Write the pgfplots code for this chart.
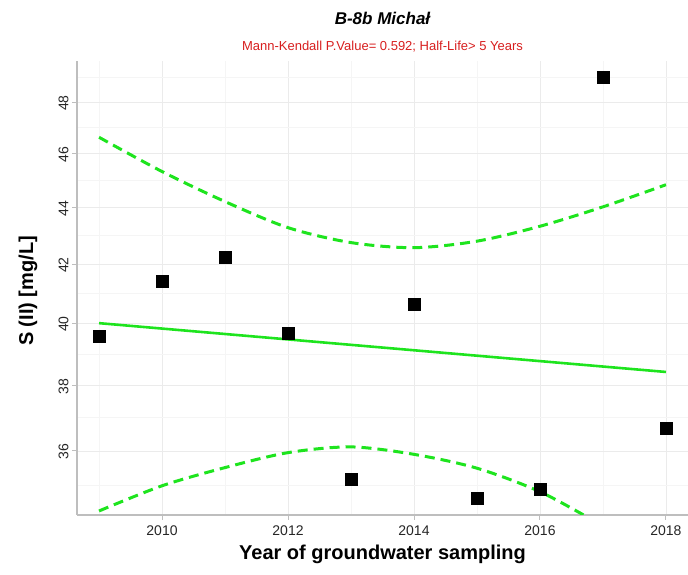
\documentclass[border=0pt]{standalone}
\usepackage{fontspec}
\setmainfont{Liberation Sans}
\usepackage{pgfplots}
\pgfplotsset{compat=1.18}
\definecolor{lgreen}{RGB}{30,228,30}
\definecolor{axgray}{RGB}{190,190,190}
\begin{document}
\begin{tikzpicture}
\path[use as bounding box] (-77pt,-60pt) rectangle (611pt,515pt);
\begin{axis}[
  at={(0pt,0pt)}, anchor=south west,
  scale only axis, width=611pt, height=454pt,
  ymode=log,
  xmin=2008.65, xmax=2018.35,
  ymin=34.15, ymax=49.66,
  xtick={2010,2012,2014,2016,2018},
  minor xtick={2009,2011,2013,2015,2017},
  ytick={36,38,40,42,44,46,48},
  minor ytick={35,37,39,41,43,45,47,49},
  log ticks with fixed point,
  /pgf/number format/assume math mode=true,
  /pgf/number format/1000 sep={},
  /pgf/number format/fixed,
  /pgf/number format/precision=0,
  grid=both,
  major grid style={color=black!8, line width=0.8pt},
  minor grid style={color=black!4, line width=0.6pt},
  axis x line*=bottom, axis y line*=left,
  axis line style={color=axgray, line width=1.5pt},
  tick align=outside, major tick length=5pt, minor tick length=0pt,
  tick style={color=axgray, line width=1pt},
  xticklabel style={font=\fontsize{14}{16}\selectfont, color=black!85, yshift=-2pt},
  yticklabel style={font=\fontsize{14}{16}\selectfont, color=black!85, rotate=90, anchor=south, xshift=-1pt},
  xlabel={Year of groundwater sampling},
  ylabel={S (II) [mg/L]},
  xlabel style={font=\bfseries\fontsize{20}{22}\selectfont, at={(axis description cs:0.5,0)}, anchor=center, yshift=-39pt},
  ylabel style={font=\bfseries\fontsize{20}{22}\selectfont, at={(axis description cs:0,0.5)}, anchor=center, yshift=49pt, xshift=-3pt},
]
\addplot[lgreen, line width=3pt, dash pattern=on 10pt off 6pt, smooth] coordinates {
(2009,46.63) (2010,45.33) (2011,44.22) (2012,43.28) (2013,42.75) (2014,42.57) (2015,42.80) (2016,43.33) (2017,44.03) (2018,44.84)};
\addplot[lgreen, line width=3pt, dash pattern=on 10pt off 6pt, smooth] coordinates {
(2009,34.26) (2010,34.98) (2011,35.51) (2012,35.95) (2013,36.12) (2014,35.90) (2015,35.49) (2016,34.81) (2017,33.85) (2018,32.95)};
\addplot[lgreen, line width=2.6pt] coordinates {(2009,40.0) (2018,38.43)};
\addplot[only marks, mark=square*, mark size=6pt, mark options={fill=black, draw=black, rounded corners=3pt}] coordinates {
(2009,39.57) (2010,41.42) (2011,42.23) (2012,39.67) (2013,35.16) (2014,40.64) (2015,34.62) (2016,34.89) (2017,48.98) (2018,36.68)};
\end{axis}
\node[font=\bfseries\itshape\fontsize{17}{19}\selectfont] at (305.5pt,497pt) {B-8b Michał};
\node[font=\fontsize{13}{15}\selectfont, text={rgb,255:red,215;green,30;blue,30}] at (305.5pt,468pt) {Mann-Kendall P.Value= 0.592; Half-Life> 5 Years};
\end{tikzpicture}
\end{document}
